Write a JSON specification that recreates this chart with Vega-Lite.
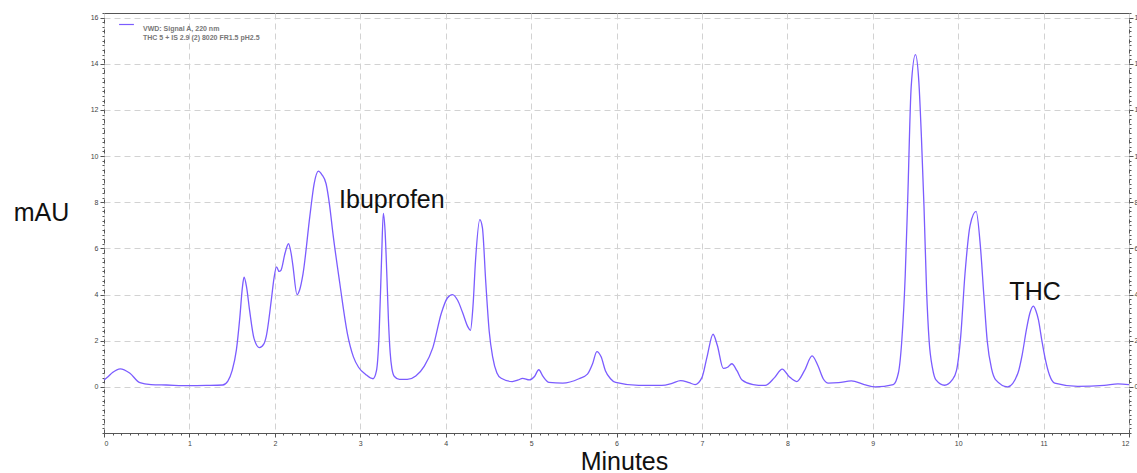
{
  "$schema": "https://vega.github.io/schema/vega-lite/v6.json",
  "width": 1025,
  "height": 420,
  "autosize": {"type": "none"},
  "padding": {"left": 104, "top": 13, "right": 8, "bottom": 40},
  "background": "white",
  "config": {
    "font": "Liberation Sans",
    "view": {"stroke": "#555", "strokeWidth": 1},
    "axis": {
      "domain": false,
      "labelFont": "Liberation Sans",
      "labelFontSize": 7,
      "labelColor": "#444",
      "tickColor": "#555",
      "gridColor": "#d2d2d2",
      "gridDash": [6, 4],
      "gridWidth": 1,
      "titleFont": "Liberation Sans",
      "titleFontWeight": "normal",
      "titleColor": "#111",
      "titleFontSize": 25
    }
  },
  "datasets": {
    "trace": [
      {"minutes": 0, "mAU": 0.3}, {"minutes": 0.05, "mAU": 0.45}, {"minutes": 0.1, "mAU": 0.62}, {"minutes": 0.19, "mAU": 0.78},
      {"minutes": 0.3, "mAU": 0.6}, {"minutes": 0.42, "mAU": 0.18}, {"minutes": 0.55, "mAU": 0.1}, {"minutes": 0.73, "mAU": 0.08},
      {"minutes": 1.0, "mAU": 0.05}, {"minutes": 1.2, "mAU": 0.06}, {"minutes": 1.39, "mAU": 0.08}, {"minutes": 1.45, "mAU": 0.25},
      {"minutes": 1.5, "mAU": 0.7}, {"minutes": 1.55, "mAU": 1.6}, {"minutes": 1.59, "mAU": 3.0}, {"minutes": 1.62, "mAU": 4.3},
      {"minutes": 1.64, "mAU": 4.75}, {"minutes": 1.67, "mAU": 4.3}, {"minutes": 1.705, "mAU": 3.3}, {"minutes": 1.756, "mAU": 2.1},
      {"minutes": 1.82, "mAU": 1.7}, {"minutes": 1.87, "mAU": 1.85}, {"minutes": 1.9, "mAU": 2.2}, {"minutes": 1.96, "mAU": 3.8},
      {"minutes": 1.99, "mAU": 4.7}, {"minutes": 2.02, "mAU": 5.2}, {"minutes": 2.05, "mAU": 5.0}, {"minutes": 2.07, "mAU": 5.04},
      {"minutes": 2.12, "mAU": 5.8}, {"minutes": 2.16, "mAU": 6.2}, {"minutes": 2.19, "mAU": 5.8}, {"minutes": 2.21, "mAU": 5.3},
      {"minutes": 2.26, "mAU": 4.0}, {"minutes": 2.29, "mAU": 4.2}, {"minutes": 2.33, "mAU": 4.9}, {"minutes": 2.41, "mAU": 7.4},
      {"minutes": 2.46, "mAU": 8.8}, {"minutes": 2.51, "mAU": 9.35}, {"minutes": 2.55, "mAU": 9.2}, {"minutes": 2.6, "mAU": 8.8},
      {"minutes": 2.64, "mAU": 7.9}, {"minutes": 2.68, "mAU": 6.65}, {"minutes": 2.76, "mAU": 4.5}, {"minutes": 2.85, "mAU": 2.3},
      {"minutes": 2.92, "mAU": 1.3}, {"minutes": 2.98, "mAU": 0.85}, {"minutes": 3.06, "mAU": 0.55}, {"minutes": 3.15, "mAU": 0.35},
      {"minutes": 3.19, "mAU": 0.7}, {"minutes": 3.22, "mAU": 2.2}, {"minutes": 3.25, "mAU": 5.6}, {"minutes": 3.27, "mAU": 7.52},
      {"minutes": 3.29, "mAU": 6.8}, {"minutes": 3.31, "mAU": 5.0}, {"minutes": 3.33, "mAU": 2.9}, {"minutes": 3.35, "mAU": 1.5},
      {"minutes": 3.37, "mAU": 0.8}, {"minutes": 3.4, "mAU": 0.45}, {"minutes": 3.46, "mAU": 0.32}, {"minutes": 3.55, "mAU": 0.32},
      {"minutes": 3.65, "mAU": 0.47}, {"minutes": 3.75, "mAU": 0.9}, {"minutes": 3.85, "mAU": 1.7}, {"minutes": 3.95, "mAU": 3.2},
      {"minutes": 4.02, "mAU": 3.85}, {"minutes": 4.08, "mAU": 4.0}, {"minutes": 4.14, "mAU": 3.75}, {"minutes": 4.2, "mAU": 3.2},
      {"minutes": 4.26, "mAU": 2.6}, {"minutes": 4.29, "mAU": 2.45}, {"minutes": 4.32, "mAU": 3.5}, {"minutes": 4.35, "mAU": 5.5},
      {"minutes": 4.4, "mAU": 7.25}, {"minutes": 4.43, "mAU": 6.9}, {"minutes": 4.47, "mAU": 4.5}, {"minutes": 4.51, "mAU": 2.4},
      {"minutes": 4.55, "mAU": 1.3}, {"minutes": 4.6, "mAU": 0.6}, {"minutes": 4.65, "mAU": 0.37}, {"minutes": 4.78, "mAU": 0.23},
      {"minutes": 4.85, "mAU": 0.3}, {"minutes": 4.9, "mAU": 0.37}, {"minutes": 4.98, "mAU": 0.3}, {"minutes": 5.04, "mAU": 0.45},
      {"minutes": 5.09, "mAU": 0.74}, {"minutes": 5.14, "mAU": 0.45}, {"minutes": 5.21, "mAU": 0.19}, {"minutes": 5.37, "mAU": 0.16},
      {"minutes": 5.56, "mAU": 0.35}, {"minutes": 5.66, "mAU": 0.55}, {"minutes": 5.72, "mAU": 1.0}, {"minutes": 5.77, "mAU": 1.53},
      {"minutes": 5.82, "mAU": 1.3}, {"minutes": 5.87, "mAU": 0.7}, {"minutes": 5.93, "mAU": 0.35}, {"minutes": 5.99, "mAU": 0.19},
      {"minutes": 6.26, "mAU": 0.06}, {"minutes": 6.53, "mAU": 0.06}, {"minutes": 6.65, "mAU": 0.15}, {"minutes": 6.75, "mAU": 0.27},
      {"minutes": 6.85, "mAU": 0.18}, {"minutes": 6.92, "mAU": 0.1}, {"minutes": 7.0, "mAU": 0.4}, {"minutes": 7.06, "mAU": 1.3},
      {"minutes": 7.13, "mAU": 2.28}, {"minutes": 7.18, "mAU": 1.8}, {"minutes": 7.25, "mAU": 0.8}, {"minutes": 7.3, "mAU": 0.85},
      {"minutes": 7.35, "mAU": 1.0}, {"minutes": 7.41, "mAU": 0.7}, {"minutes": 7.47, "mAU": 0.3}, {"minutes": 7.6, "mAU": 0.1},
      {"minutes": 7.74, "mAU": 0.06}, {"minutes": 7.85, "mAU": 0.4}, {"minutes": 7.94, "mAU": 0.77}, {"minutes": 8.02, "mAU": 0.45},
      {"minutes": 8.11, "mAU": 0.23}, {"minutes": 8.2, "mAU": 0.7}, {"minutes": 8.29, "mAU": 1.34}, {"minutes": 8.36, "mAU": 0.9},
      {"minutes": 8.42, "mAU": 0.35}, {"minutes": 8.48, "mAU": 0.16}, {"minutes": 8.6, "mAU": 0.18}, {"minutes": 8.75, "mAU": 0.26},
      {"minutes": 8.9, "mAU": 0.1}, {"minutes": 9.03, "mAU": 0.0}, {"minutes": 9.24, "mAU": 0.1}, {"minutes": 9.3, "mAU": 0.6},
      {"minutes": 9.34, "mAU": 2.0}, {"minutes": 9.38, "mAU": 4.8}, {"minutes": 9.41, "mAU": 8.2}, {"minutes": 9.45, "mAU": 13.0},
      {"minutes": 9.5, "mAU": 14.4}, {"minutes": 9.54, "mAU": 13.2}, {"minutes": 9.57, "mAU": 10.8}, {"minutes": 9.6, "mAU": 7.8},
      {"minutes": 9.63, "mAU": 4.2}, {"minutes": 9.66, "mAU": 2.0}, {"minutes": 9.7, "mAU": 0.8}, {"minutes": 9.74, "mAU": 0.3},
      {"minutes": 9.84, "mAU": 0.07}, {"minutes": 9.93, "mAU": 0.3}, {"minutes": 9.98, "mAU": 0.7}, {"minutes": 10.03, "mAU": 2.2},
      {"minutes": 10.08, "mAU": 4.9}, {"minutes": 10.14, "mAU": 7.0}, {"minutes": 10.21, "mAU": 7.6}, {"minutes": 10.26, "mAU": 6.1},
      {"minutes": 10.3, "mAU": 4.0}, {"minutes": 10.34, "mAU": 2.0}, {"minutes": 10.39, "mAU": 0.8}, {"minutes": 10.44, "mAU": 0.3},
      {"minutes": 10.58, "mAU": 0.0}, {"minutes": 10.7, "mAU": 0.6}, {"minutes": 10.75, "mAU": 1.4}, {"minutes": 10.8, "mAU": 2.5},
      {"minutes": 10.84, "mAU": 3.2}, {"minutes": 10.88, "mAU": 3.5}, {"minutes": 10.91, "mAU": 3.3}, {"minutes": 10.94, "mAU": 2.9},
      {"minutes": 10.98, "mAU": 2.0}, {"minutes": 11.02, "mAU": 1.2}, {"minutes": 11.07, "mAU": 0.5}, {"minutes": 11.13, "mAU": 0.16},
      {"minutes": 11.4, "mAU": 0.02}, {"minutes": 11.71, "mAU": 0.06}, {"minutes": 11.87, "mAU": 0.13}, {"minutes": 12.0, "mAU": 0.1}
    ],
    "notes": [
      {"minutes": 3.37, "mAU": 8.1, "label": "Ibuprofen"},
      {"minutes": 10.9, "mAU": 4.12, "label": "THC"}
    ]
  },
  "layer": [
    {
      "data": {"name": "trace"},
      "mark": {"type": "line", "interpolate": "monotone", "strokeWidth": 1.3},
      "encoding": {
        "x": {
          "field": "minutes", "type": "quantitative",
          "scale": {"domain": [0, 12], "nice": false, "zero": false},
          "axis": {
            "orient": "bottom", "tickCount": 12, "grid": true, "tickSize": 4, "labelPadding": 2,
            "title": "Minutes", "titleX": 520, "titleY": 28, "titleAlign": "center", "titleBaseline": "middle", "titleAngle": 0
          }
        },
        "y": {
          "field": "mAU", "type": "quantitative",
          "scale": {"domain": [-2, 16.2], "nice": false, "zero": false},
          "axis": {
            "orient": "left", "values": [0, 2, 4, 6, 8, 10, 12, 14, 16], "grid": true, "tickSize": 4, "labelPadding": 2,
            "title": "mAU", "titleAngle": 0, "titleX": -63, "titleY": 199, "titleAlign": "center", "titleBaseline": "middle"
          }
        },
        "color": {
          "datum": "VWD: Signal A, 220 nm", "type": "nominal",
          "scale": {"range": ["#7b5cff"]},
          "legend": {
            "title": null, "orient": "none", "legendX": 14, "legendY": 3, "padding": 0,
            "symbolType": "stroke", "symbolSize": 220, "symbolStrokeWidth": 1.2,
            "labelFont": "Liberation Sans", "labelFontSize": 7, "labelFontWeight": "bold", "labelColor": "#777",
            "labelBaseline": "top", "labelOffset": 8, "labelLimit": 400,
            "labelExpr": "['VWD: Signal A, 220 nm', 'THC 5 + IS 2.9 (2) 8020 FR1.5 pH2.5']"
          }
        }
      }
    },
    {
      "data": {"name": "notes"},
      "mark": {"type": "text", "fontSize": 25, "font": "Liberation Sans", "color": "#111"},
      "encoding": {
        "x": {"field": "minutes", "type": "quantitative", "axis": {"orient": "bottom", "tickCount": 120, "labels": false, "grid": false, "tickSize": 2, "title": null}},
        "y": {"field": "mAU", "type": "quantitative", "axis": {"orient": "left", "tickCount": 91, "labels": false, "grid": false, "tickSize": 2, "title": null}},
        "text": {"field": "label"}
      }
    },
    {
      "data": {"name": "notes"},
      "mark": {"type": "text", "opacity": 0},
      "encoding": {
        "x": {"field": "minutes", "type": "quantitative", "axis": null},
        "y": {"field": "mAU", "type": "quantitative", "axis": {"orient": "right", "values": [0, 2, 4, 6, 8, 10, 12, 14, 16], "grid": false, "tickSize": 4, "labelPadding": 1, "title": null}},
        "text": {"field": "label"}
      }
    },
    {
      "data": {"name": "notes"},
      "mark": {"type": "text", "opacity": 0},
      "encoding": {
        "x": {"field": "minutes", "type": "quantitative", "axis": null},
        "y": {"field": "mAU", "type": "quantitative", "axis": {"orient": "right", "tickCount": 91, "labels": false, "grid": false, "tickSize": 2, "title": null}},
        "text": {"field": "label"}
      }
    }
  ],
  "resolve": {"axis": {"x": "independent", "y": "independent"}}
}
